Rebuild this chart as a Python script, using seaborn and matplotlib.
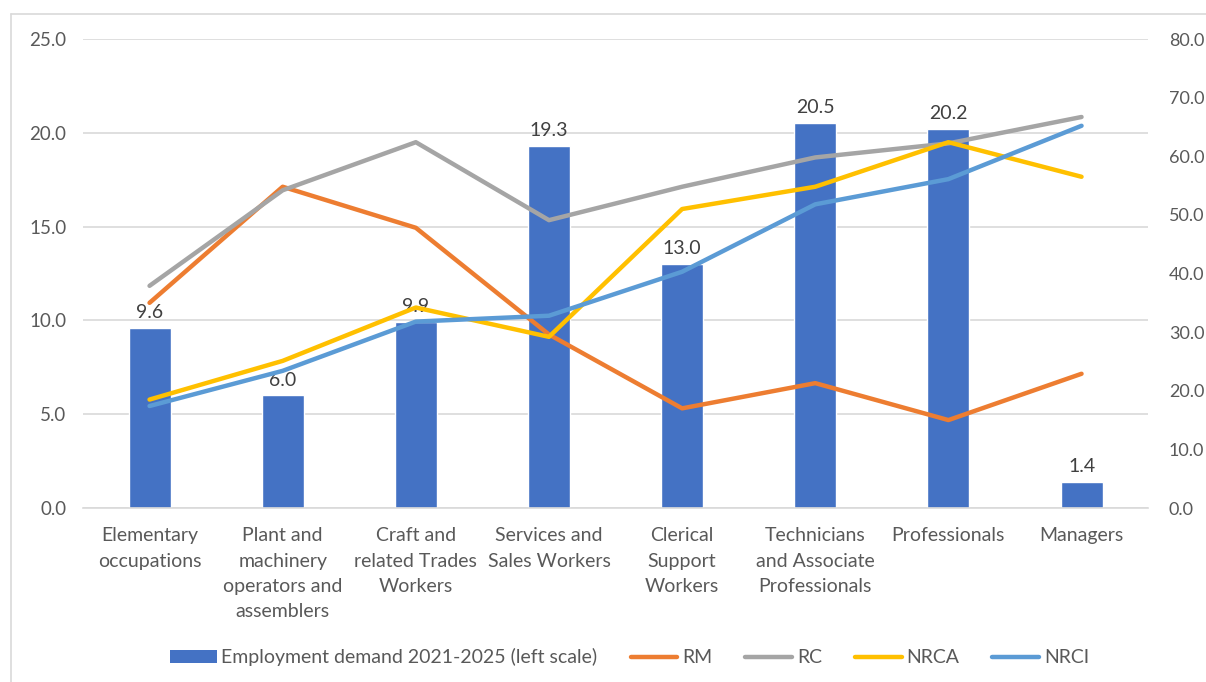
import matplotlib
matplotlib.use("Agg")
import matplotlib.pyplot as plt
from matplotlib.lines import Line2D
from matplotlib.patches import Patch
import seaborn as sns
import pandas as pd

categories = [
    "Elementary\noccupations",
    "Plant and\nmachinery\noperators and\nassemblers",
    "Craft and\nrelated Trades\nWorkers",
    "Services and\nSales Workers",
    "Clerical\nSupport\nWorkers",
    "Technicians\nand Associate\nProfessionals",
    "Professionals",
    "Managers",
]
demand = [9.6, 6.0, 9.9, 19.3, 13.0, 20.5, 20.2, 1.4]
rm = [35.0, 54.8, 47.8, 29.6, 17.0, 21.3, 15.0, 22.9]
rc = [37.9, 54.2, 62.4, 49.1, 54.8, 59.8, 62.2, 66.7]
nrca = [18.5, 25.1, 34.2, 29.2, 51.0, 54.8, 62.4, 56.5]
nrci = [17.4, 23.4, 31.8, 32.8, 40.3, 51.8, 56.1, 65.2]

bar_label = "Employment demand 2021-2025 (left scale)"
series_names = ["RM", "RC", "NRCA", "NRCI"]
series_values = [rm, rc, nrca, nrci]
series_colors = ["#ED7D31", "#A5A5A5", "#FFC000", "#5B9BD5"]
bar_color = "#4472C4"
text_color = "#595959"

sns.set_theme(style="white")
plt.rcParams["font.family"] = ["Lato", "DejaVu Sans"]

fig = plt.figure(figsize=(12.06, 6.82), dpi=100)
ax = fig.add_axes([0.0688, 0.2551, 0.8832, 0.6877])

bars_df = pd.DataFrame({"category": categories, "demand": demand})
sns.barplot(data=bars_df, x="category", y="demand", color=bar_color,
            saturation=1, width=0.315, ax=ax, zorder=2)
ax.set_ylim(0, 25)
ax.set_yticks([0, 5, 10, 15, 20, 25])
ax.set_yticklabels([f"{v:.1f}" for v in [0, 5, 10, 15, 20, 25]])
ax.set_xlim(-0.5, len(categories) - 0.5)
ax.set_xlabel("")
ax.set_ylabel("")
ax.yaxis.grid(True, color="#D9D9D9", linewidth=1.2, zorder=0)
ax.set_axisbelow(True)
for s in ["top", "right", "left"]:
    ax.spines[s].set_visible(False)
ax.spines["bottom"].set_color("#D9D9D9")
ax.spines["bottom"].set_linewidth(1.2)
ax.tick_params(axis="x", length=0, colors=text_color, labelsize=14, pad=14)
ax.tick_params(axis="y", length=0, colors=text_color, labelsize=13.5, pad=12)
for lbl in ax.get_xticklabels():
    lbl.set_linespacing(1.58)

for i, v in enumerate(demand):
    ax.annotate(f"{v:.1f}", (i, v), xytext=(0, 5), textcoords="offset points",
                ha="center", va="bottom", fontsize=14, color="#404040")

ax2 = ax.twinx()
lines_df = pd.DataFrame({"category": categories * len(series_names),
                         "value": sum(series_values, []),
                         "series": [n for n in series_names for _ in categories]})
sns.lineplot(data=lines_df, x="category", y="value", hue="series",
             palette=dict(zip(series_names, series_colors)), linewidth=3.2,
             sort=False, legend=False, ax=ax2)
for ln in ax2.get_lines():
    ln.set_solid_capstyle("round")
    ln.set_solid_joinstyle("round")
ax2.set_ylim(0, 80)
ax2.set_yticks(range(0, 81, 10))
ax2.set_yticklabels([f"{v:.1f}" for v in range(0, 81, 10)])
ax2.set_xlim(-0.5, len(categories) - 0.5)
ax2.set_xlabel("")
ax2.set_ylabel("")
for s in ax2.spines.values():
    s.set_visible(False)
ax2.tick_params(axis="y", length=0, colors=text_color, labelsize=13, pad=15)

handles = [Patch(facecolor=bar_color, edgecolor="none")] + [
    Line2D([0], [0], color=c, linewidth=3.2, solid_capstyle="round") for c in series_colors
]
labels = [bar_label] + series_names
fig.legend(handles, labels, loc="center", bbox_to_anchor=(0.522, 0.036), ncol=5,
           frameon=False, fontsize=14, labelcolor=text_color, handlelength=2.4,
           handletextpad=0.25, columnspacing=1.7)

# outer chart frame
fig.add_artist(Line2D([11 / 1206, 1.0], [1 - 14 / 682, 1 - 14 / 682],
                      transform=fig.transFigure, color="#D9D9D9", linewidth=1.2))
fig.add_artist(Line2D([11 / 1206, 11 / 1206], [0, 1 - 14 / 682],
                      transform=fig.transFigure, color="#D9D9D9", linewidth=1.2))

fig.savefig("out.png", dpi=100, facecolor="white")
